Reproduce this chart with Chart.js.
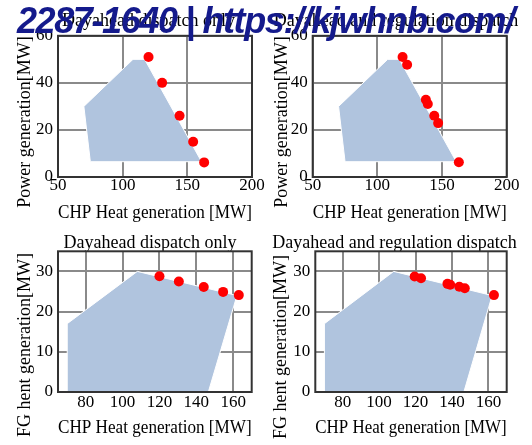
<!DOCTYPE html>
<html>
<head>
<meta charset="utf-8">
<script src="https://cdn.jsdelivr.net/npm/chart.js@4.4.1/dist/chart.umd.min.js"></script>
<style>
  html, body { margin:0; padding:0; background:#ffffff; }
  body { width:532px; height:445px; position:relative; overflow:hidden; }
  .cell { position:absolute; }
  #wm { position:absolute; left:17px; top:3px; z-index:10; white-space:nowrap;
        font-family:"Liberation Sans", Arial, sans-serif; font-weight:bold; font-style:italic;
        font-size:36px; line-height:36px; letter-spacing:-1.4px; color:#141a8c; pointer-events:none; }
</style>
</head>
<body>
<div class="cell" style="left:0;top:0;width:266px;height:222px"><canvas id="c1"></canvas></div>
<div class="cell" style="left:266px;top:0;width:266px;height:222px"><canvas id="c2"></canvas></div>
<div class="cell" style="left:0;top:222px;width:266px;height:223px"><canvas id="c3"></canvas></div>
<div class="cell" style="left:266px;top:222px;width:266px;height:223px"><canvas id="c4"></canvas></div>
<div id="wm">2287-1640 | https://kjwhnb.com/</div>
<script>
// ---- data ----
const titleDA = "Dayahead dispatch only";
const titleReg = "Dayahead and regulation dispatch";
const xTitle = "CHP Heat generation [MW]";
const yTitlePower = "Power generation[MW]";
const yTitleFG = "FG hent generation[MW]";

const xTicksTop = [50, 100, 150, 200];
const yTicksTop = [0, 20, 40, 60];
const xTicksBottom = [80, 100, 120, 140, 160];
const yTicksBottom = [0, 10, 20, 30];

// CHP feasible region (heat vs power)
const regionHeat  = [70, 108, 117, 161, 75, 70];
const regionPower = [30, 50, 50, 6.5, 6.5, 30];
// FG heat feasible region (heat vs FG heat)
const fgRegionHeat  = [70, 108, 162, 146.5, 70, 70];
const fgRegionValue = [17, 30, 24, 0, 0, 17];

// dispatch points
const daHeat  = [120, 130.5, 144, 154.5, 163];
const daPower = [51, 40, 26, 15, 6.2];
const daFG    = [28.8, 27.5, 26.1, 24.9, 24.1];

const regHeat  = [119.5, 123, 137.5, 139, 144, 147, 163];
const regPower = [51, 47.7, 32.8, 31, 26, 22.9, 6.3];
const regFG    = [28.75, 28.3, 26.9, 26.7, 26.2, 25.8, 24.1];

// ---- chart builder ----
const FONT = "'Liberation Serif', 'Times New Roman', serif";
const framePlugin = {
  id: 'frame',
  afterDatasetsDraw(chart) {
    const a = chart.chartArea, ctx = chart.ctx;
    ctx.save();
    ctx.strokeStyle = '#333333';
    ctx.lineWidth = 2;
    ctx.strokeRect(a.left, a.top, a.right - a.left, a.bottom - a.top);
    ctx.restore();
  }
};
const yTitlePlugin = {
  id: 'ytitle',
  afterDraw(chart, args, opts) {
    const ctx = chart.ctx;
    ctx.save();
    ctx.translate(opts.x, opts.y);
    ctx.rotate(-Math.PI / 2);
    ctx.font = "18px " + FONT;
    ctx.fillStyle = '#000000';
    ctx.textAlign = 'center';
    ctx.textBaseline = 'middle';
    ctx.fillText(opts.text, 0, 0);
    ctx.restore();
  }
};

function pts(xs, ys) { return xs.map((x, i) => ({ x: x, y: ys[i] })); }

function makeChart(id, cfg) {
  new Chart(document.getElementById(id), {
    type: 'scatter',
    data: {
      datasets: [
        { data: pts(cfg.px, cfg.py), backgroundColor: '#ff0000', borderColor: '#ff0000',
          pointRadius: 5, pointHoverRadius: 5, borderWidth: 0 },
        { type: 'line', data: pts(cfg.rx, cfg.ry), fill: 'shape', backgroundColor: '#b0c4de',
          borderColor: '#ffffff', borderWidth: 1, pointRadius: 0, tension: 0 }
      ]
    },
    options: {
      responsive: true, maintainAspectRatio: false, animation: false, devicePixelRatio: 1,
      layout: { padding: { left: cfg.padLeft, right: cfg.padRight, top: 0, bottom: 0 } },
      plugins: {
        legend: { display: false }, tooltip: { enabled: false },
        title: { display: true, text: cfg.title, color: '#000000',
          font: { family: FONT, size: 18, weight: 'normal', lineHeight: 1.1 },
          padding: cfg.titlePad },
        ytitle: { text: cfg.yTitle, x: cfg.yTitleX, y: cfg.yTitleY }
      },
      scales: {
        x: {
          type: 'linear', min: cfg.xMin, max: cfg.xMax,
          afterBuildTicks: s => { s.ticks = cfg.xTicks.map(v => ({ value: v })); },
          afterFit: s => { s.height = cfg.xAxisH; },
          grid: { color: '#8a8a8a', lineWidth: 2, drawTicks: false },
          border: { display: false },
          ticks: { color: '#000000', padding: cfg.xTickPad, maxRotation: 0,
            font: { family: FONT, size: 17, lineHeight: 1 } },
          title: { display: true, text: xTitle, color: '#000000', padding: cfg.xTitlePad,
            font: { family: FONT, size: 18, lineHeight: 1 } }
        },
        y: {
          type: 'linear', position: 'left', min: 0, max: cfg.yMax,
          afterBuildTicks: s => { s.ticks = cfg.yTicks.map(v => ({ value: v })); },
          afterFit: s => { s.width = cfg.yAxisW; },
          grid: { color: '#8a8a8a', lineWidth: 2, drawTicks: false },
          border: { display: false },
          ticks: { color: '#000000', padding: 5,
            font: { family: FONT, size: 17, lineHeight: 1 } }
        },
        yRight: {
          axis: 'y', type: 'linear', position: 'right', min: 0, max: cfg.yMax,
          afterFit: s => { s.width = cfg.rightW; },
          grid: { display: false, drawTicks: false },
          border: { display: false },
          ticks: { display: false }
        }
      }
    },
    plugins: [framePlugin, yTitlePlugin]
  });
}

makeChart('c1', { px: daHeat, py: daPower, rx: regionHeat, ry: regionPower,
  xMin: 50, xMax: 200, xTicks: xTicksTop, yMax: 60, yTicks: yTicksTop,
  title: titleDA, yTitle: yTitlePower,
  padLeft: 31, padRight: 0, yAxisW: 27, rightW: 14,
  titlePad: { top: 11, bottom: 5 }, xAxisH: 45, xTickPad: 0, xTitlePad: 0,
  yTitleX: 25, yTitleY: 122 });

makeChart('c2', { px: regHeat, py: regPower, rx: regionHeat, ry: regionPower,
  xMin: 50, xMax: 200, xTicks: xTicksTop, yMax: 60, yTicks: yTicksTop,
  title: titleReg, yTitle: yTitlePower,
  padLeft: 0, padRight: 6, yAxisW: 46.7, rightW: 19.3,
  titlePad: { top: 11, bottom: 5 }, xAxisH: 45, xTickPad: 0, xTitlePad: 0,
  yTitleX: 16.7, yTitleY: 122 });

makeChart('c3', { px: daHeat, py: daFG, rx: fgRegionHeat, ry: fgRegionValue,
  xMin: 65, xMax: 170, xTicks: xTicksBottom, yMax: 35, yTicks: yTicksBottom,
  title: titleDA, yTitle: yTitleFG,
  padLeft: 34, padRight: 0, yAxisW: 24, rightW: 14.3,
  titlePad: { top: 11, bottom: -1.5 }, xAxisH: 53, xTickPad: 2.5, xTitlePad: 8,
  yTitleX: 25, yTitleY: 123 });

makeChart('c4', { px: regHeat, py: regFG, rx: fgRegionHeat, ry: fgRegionValue,
  xMin: 65, xMax: 170, xTicks: xTicksBottom, yMax: 35, yTicks: yTicksBottom,
  title: titleReg, yTitle: yTitleFG,
  padLeft: 0, padRight: 9, yAxisW: 49.3, rightW: 16.3,
  titlePad: { top: 11, bottom: -1.5 }, xAxisH: 53, xTickPad: 2.5, xTitlePad: 8,
  yTitleX: 15, yTitleY: 125 });
</script>
</body>
</html>
